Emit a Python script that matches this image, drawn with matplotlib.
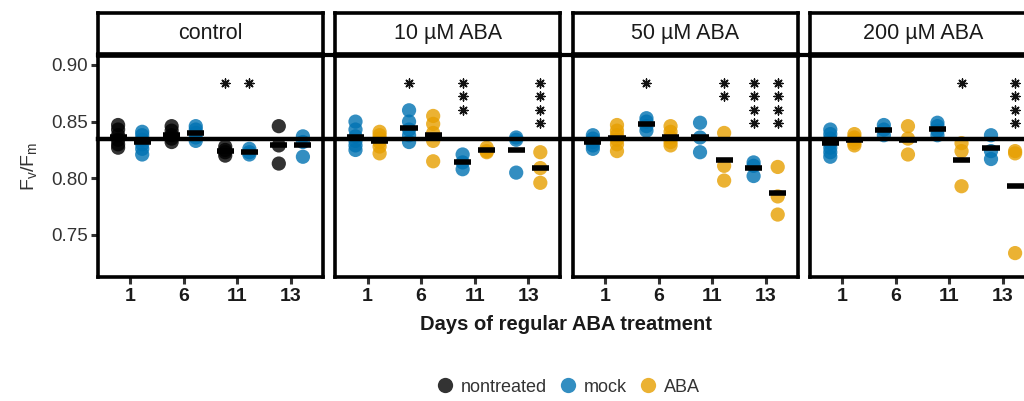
import numpy as np
import matplotlib
matplotlib.use('Agg')
import matplotlib.pyplot as plt
from matplotlib.lines import Line2D
from matplotlib import transforms

plt.rcParams['font.family'] = ['Liberation Sans', 'DejaVu Sans']
plt.rcParams['mathtext.default'] = 'regular'

days = ['1', '6', '11', '13']
panels = ['control', '10 \u00b5M ABA', '50 \u00b5M ABA', '200 \u00b5M ABA']
groups = ['nontreated', 'mock', 'ABA']
colors = {'nontreated': '#000000', 'mock': '#0072B2', 'ABA': '#E69F00'}
ref_level = 0.835

# Fv/Fm values per day (1, 6, 11, 13)
control_nontreated = [[0.847, 0.843, 0.838, 0.834, 0.830, 0.827],
                      [0.846, 0.842, 0.838, 0.835, 0.832],
                      [0.828, 0.825, 0.823, 0.820],
                      [0.846, 0.829, 0.813]]
control_mock = [[0.841, 0.838, 0.834, 0.830, 0.826, 0.821],
                [0.846, 0.843, 0.840, 0.836, 0.833],
                [0.826, 0.823, 0.821],
                [0.837, 0.832, 0.819]]
aba10_mock = [[0.850, 0.843, 0.837, 0.833, 0.829, 0.825],
              [0.860, 0.850, 0.843, 0.838, 0.832],
              [0.821, 0.814, 0.808],
              [0.836, 0.834, 0.805]]
aba10_aba = [[0.841, 0.838, 0.835, 0.832, 0.828, 0.822],
             [0.855, 0.848, 0.840, 0.833, 0.815],
             [0.827, 0.824, 0.823],
             [0.823, 0.809, 0.796]]
aba50_mock = [[0.838, 0.835, 0.832, 0.829, 0.826],
              [0.853, 0.850, 0.846, 0.842],
              [0.849, 0.836, 0.823],
              [0.814, 0.811, 0.802]]
aba50_aba = [[0.847, 0.842, 0.838, 0.834, 0.830, 0.824],
             [0.846, 0.841, 0.836, 0.832, 0.829],
             [0.840, 0.811, 0.798],
             [0.810, 0.784, 0.768]]
aba200_mock = [[0.843, 0.839, 0.835, 0.831, 0.827, 0.823, 0.819],
               [0.847, 0.843, 0.838],
               [0.849, 0.846, 0.842, 0.838],
               [0.838, 0.824, 0.817]]
aba200_aba = [[0.839, 0.836, 0.834, 0.831, 0.829],
              [0.846, 0.835, 0.821],
              [0.831, 0.824, 0.793],
              [0.824, 0.822, 0.734]]

# number of significance stars per day, left / right group
stars_left = [[0, 0, 1, 0], [0, 1, 3, 0], [0, 1, 0, 4], [0, 0, 0, 0]]
stars_right = [[0, 0, 1, 0], [0, 0, 0, 4], [0, 0, 2, 4], [0, 0, 1, 4]]

panel_data = [(('nontreated', control_nontreated), ('mock', control_mock)),
              (('mock', aba10_mock), ('ABA', aba10_aba)),
              (('mock', aba50_mock), ('ABA', aba50_aba)),
              (('mock', aba200_mock), ('ABA', aba200_aba))]

W, H = 1024, 401
fig = plt.figure(figsize=(W / 100, H / 100), dpi=100)

dodge = 0.225
star_marker = (8, 2, 0)
axes = []
for i, name in enumerate(panels):
    left = 98 + i * 237.4
    ax = fig.add_axes([left / W, (H - 277) / H, 225 / W, 221 / H])
    st = fig.add_axes([left / W, (H - 54) / H, 225 / W, 41 / H])
    axes.append(ax)

    for side, (grp, vals) in zip((-1, 1), panel_data[i]):
        for d, v in enumerate(vals):
            xs = np.full(len(v), d + side * dodge)
            ax.scatter(xs, v, s=105, color=colors[grp], alpha=0.8,
                       edgecolors='none', zorder=2)
            ax.hlines(np.mean(v), d + side * dodge - 0.16, d + side * dodge + 0.16,
                      color='black', lw=4, zorder=4)
    for side, counts in zip((-1, 1), (stars_left[i], stars_right[i])):
        for d, n in enumerate(counts):
            for k in range(n):
                ax.scatter(d + side * dodge, 0.884 - k * 0.0118, marker=star_marker,
                           s=42, color='#111111', lw=1.0, zorder=5)

    ax.set_xlim(-0.6, 3.6)
    ax.set_ylim(0.7129, 0.9079)
    ax.set_xticks(range(len(days)))
    ax.set_xticklabels(days, fontsize=14, fontweight='bold', color='#1a1a1a')
    ax.tick_params(axis='x', length=5, width=2.2, color='#333333', pad=3)
    if i == 0:
        ax.set_yticks([0.75, 0.80, 0.85, 0.90])
        ax.set_yticklabels(['0.75', '0.80', '0.85', '0.90'], fontsize=13.5, color='#333333')
        ax.tick_params(axis='y', length=5, width=2.2, color='#333333', pad=2)
        ax.set_ylabel('$F_v/F_m$', fontsize=14, color='#333333', labelpad=9)
    else:
        ax.set_yticks([])
    for sp in ax.spines.values():
        sp.set_linewidth(2.6)

    st.set_xticks([])
    st.set_yticks([])
    for sp in st.spines.values():
        sp.set_linewidth(2.6)
    st.text(0.5, 0.5, name, ha='center', va='center', fontsize=15.5,
            color='#1a1a1a', transform=st.transAxes)

# reference line and strip divider run across all panels
blend = transforms.blended_transform_factory(fig.transFigure, axes[0].transData)
fig.add_artist(Line2D([98 / W, 1.0], [ref_level, ref_level], transform=blend,
                      color='black', lw=3.2, zorder=10))
fig.add_artist(Line2D([98 / W, 1.0], [(H - 55) / H] * 2, transform=fig.transFigure,
                      color='black', lw=3.0, zorder=10))

fig.text(566 / W, (H - 324) / H, 'Days of regular ABA treatment', ha='center',
         va='center', fontsize=14.5, fontweight='bold', color='#1a1a1a')

handles = [Line2D([], [], ls='none', marker='o', markersize=11, alpha=0.8,
                  markerfacecolor=colors[g], markeredgecolor='none') for g in groups]
fig.legend(handles, groups, loc='center', bbox_to_anchor=(568 / W, 14 / H), ncol=3,
           frameon=False, fontsize=13, handletextpad=0.35, columnspacing=0.7,
           handlelength=1.0, labelcolor='#333333')

fig.savefig('out.png', dpi=100)
